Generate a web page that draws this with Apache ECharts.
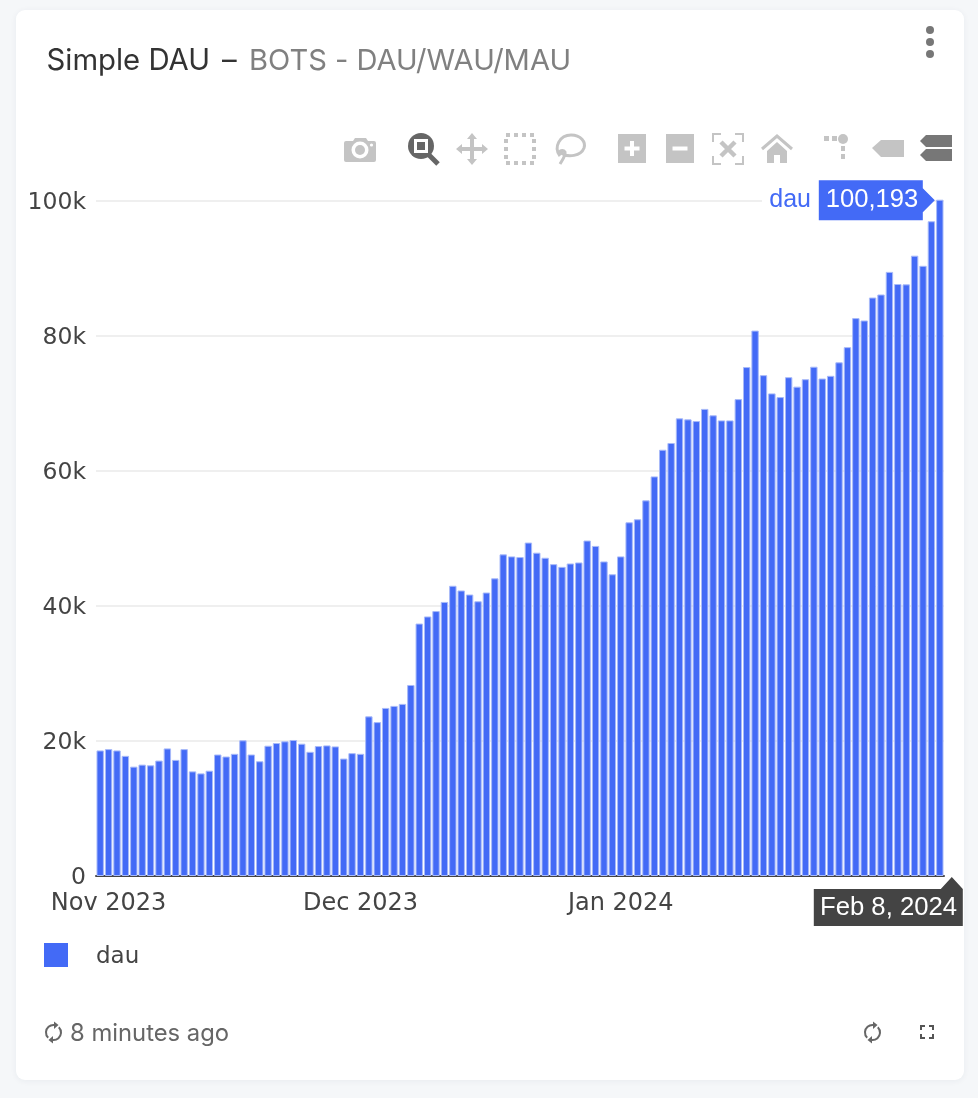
<!DOCTYPE html>
<html>
<head>
<meta charset="utf-8">
<script src="https://cdn.jsdelivr.net/npm/echarts@6/dist/echarts.min.js"></script>
<style>
html,body{margin:0;padding:0;background:#f5f7f9;width:978px;height:1098px;overflow:hidden}
#card{position:absolute;left:16px;top:10px;width:948px;height:1070px;background:#fff;border-radius:9px;box-shadow:0 1px 6px rgba(30,50,80,.06)}
#chart{position:absolute;left:0;top:0;width:978px;height:1098px}
</style>
</head>
<body>
<div id="card"></div>
<div id="chart"></div>
<script>
const days = [
"2023-10-31",
"2023-11-01","2023-11-02","2023-11-03","2023-11-04","2023-11-05","2023-11-06","2023-11-07","2023-11-08","2023-11-09","2023-11-10",
"2023-11-11","2023-11-12","2023-11-13","2023-11-14","2023-11-15","2023-11-16","2023-11-17","2023-11-18","2023-11-19","2023-11-20",
"2023-11-21","2023-11-22","2023-11-23","2023-11-24","2023-11-25","2023-11-26","2023-11-27","2023-11-28","2023-11-29","2023-11-30",
"2023-12-01","2023-12-02","2023-12-03","2023-12-04","2023-12-05","2023-12-06","2023-12-07","2023-12-08","2023-12-09","2023-12-10",
"2023-12-11","2023-12-12","2023-12-13","2023-12-14","2023-12-15","2023-12-16","2023-12-17","2023-12-18","2023-12-19","2023-12-20",
"2023-12-21","2023-12-22","2023-12-23","2023-12-24","2023-12-25","2023-12-26","2023-12-27","2023-12-28","2023-12-29","2023-12-30","2023-12-31",
"2024-01-01","2024-01-02","2024-01-03","2024-01-04","2024-01-05","2024-01-06","2024-01-07","2024-01-08","2024-01-09","2024-01-10",
"2024-01-11","2024-01-12","2024-01-13","2024-01-14","2024-01-15","2024-01-16","2024-01-17","2024-01-18","2024-01-19","2024-01-20",
"2024-01-21","2024-01-22","2024-01-23","2024-01-24","2024-01-25","2024-01-26","2024-01-27","2024-01-28","2024-01-29","2024-01-30","2024-01-31",
"2024-02-01","2024-02-02","2024-02-03","2024-02-04","2024-02-05","2024-02-06","2024-02-07","2024-02-08"
];
const dau = [
18600,18800,18600,17800,16200,16500,16400,17100,18900,17200,
18800,15500,15200,15600,18000,17700,18100,20100,18000,17000,
19300,19700,19950,20150,19600,18400,19250,19350,19200,17400,
18200,18100,23650,22800,24900,25200,25500,28300,37400,38450,
39250,40600,43000,42300,41700,40700,42000,44100,47650,47350,
47250,49400,47900,47150,46200,45800,46300,46450,49700,48900,
46600,44700,47350,52400,52850,55650,59200,63150,64150,67800,
67650,67400,69200,68250,67500,67500,70650,75400,80800,74200,
71500,70950,73900,72500,73600,75450,73700,74100,76100,78350,
82650,82300,85700,86150,89500,87700,87650,91900,90400,97000,
100193
];
const tickLabels = {"2023-11-01":"Nov 2023","2023-12-01":"Dec 2023","2024-01-01":"Jan 2024"};
const yTickStep = 20000;
const seriesName = "dau";
const hoverDate = "Feb 8, 2024";
const BLUE = "#436af6", GRAY = "#c4c4c4", DARK = "#777";
const TICK_FONT = '"DejaVu Sans"', UI_FONT = 'Inter';

let pathCount = 0;
function pathType(d) {
  const name = 'iconPath' + (pathCount++);
  echarts.graphic.registerShape(name, echarts.graphic.extendPath(d));
  return name;
}
function txt(text, x, y, size, fill, family, align) {
  return {type:'text', z:50, style:{text, x, y, fill, font:`${size}px ${family}`, textAlign:align||'left', verticalAlign:'middle'}};
}
function fillPath(d, x, y, fill) {
  return {type:pathType(d), z:50, x, y, style:{fill, stroke:null}};
}
function strokePath(d, x, y, stroke, lineWidth, dash) {
  return {type:pathType(d), z:50, x, y, style:{fill:null, stroke, lineWidth, lineDash:dash||null}};
}
function circle(cx, cy, r, fill) {
  return {type:'circle', z:50, shape:{cx, cy, r}, style:{fill}};
}
function rect(x, y, width, height, fill, r) {
  return {type:'rect', z:50, shape:{x, y, width, height, r:r||0}, style:{fill}};
}
function sync(x, y) {
  return [
    strokePath('M9 3 A7.5 7.5 0 0 0 3.2 15.8', x, y, '#666', 2),
    fillPath('M9 -0.5 L13.5 3 L9 7 Z', x, y, '#666'),
    strokePath('M8 18 A7.5 7.5 0 0 0 13.8 5.2', x, y, '#666', 2),
    fillPath('M8 14 L3.5 18 L8 21.5 Z', x, y, '#666')
  ];
}

const decorations = [
  txt('Simple DAU', 46.5, 61, 29.3, '#333', UI_FONT),
  txt('\u2013', 222, 61, 29.3, '#333', UI_FONT),
  txt('BOTS - DAU/WAU/MAU', 249, 61, 29.1, '#808080', UI_FONT),
  circle(930, 30, 4, DARK), circle(930, 42, 4, DARK), circle(930, 54, 4, DARK),
  // camera
  fillPath('M2 8 H9 L11 5 H22 L24 8 H30 Q32 8 32 10 V27 Q32 29 30 29 H2 Q0 29 0 27 V10 Q0 8 2 8 Z', 344, 133, GRAY),
  circle(360, 150, 8.5, '#fff'), circle(360, 150, 5, GRAY), circle(371.5, 145, 1.6, '#fff'),
  // zoom (active)
  strokePath('M21 22 L30 31', 408, 133, '#666', 5),
  circle(421, 146, 13, '#666'),
  rect(414, 139, 14, 14, '#fff'), rect(417, 142, 8, 8, '#666'),
  // pan
  fillPath('M16 0 L21 6 H18 V14 H26 V11 L32 16 L26 21 V18 H18 V26 H21 L16 32 L11 26 H14 V18 H6 V21 L0 16 L6 11 V14 H14 V6 H11 Z', 456, 133, GRAY),
  // box select
  strokePath('M2 2 H30 V30 H2 Z', 504, 133, GRAY, 4, [4,4]),
  // lasso
  strokePath('M6 23 C-1 14 6 2 17 2 C27 2 32 9 30 15 C27 23 14 25 7 20 C4 18 9 16 11 19 C12 22 9 26 6 31', 554, 133, GRAY, 3),
  // zoom in
  rect(618, 134, 28, 29, GRAY),
  rect(624.5, 146.5, 15, 4, '#fff'), rect(630, 141, 4, 15, '#fff'),
  // zoom out
  rect(666, 134, 28, 29, GRAY),
  rect(672.5, 146.5, 15, 4, '#fff'),
  // autoscale
  strokePath('M9 1 H1 V9 M23 1 H31 V9 M1 23 V31 H9 M31 23 V31 H23', 712, 133, GRAY, 2),
  strokePath('M9 9 L23 23 M23 9 L9 23', 712, 133, GRAY, 4.5),
  // home
  strokePath('M0 16 L15 3 L30 16', 762, 133, GRAY, 3),
  fillPath('M5 18 L15 9 L25 18 V30 H18 V22 H12 V30 H5 Z', 762, 133, GRAY),
  // spike lines
  rect(824, 136, 5, 5, GRAY), rect(832, 136, 5, 5, GRAY), circle(843, 139, 5, GRAY),
  rect(841, 146, 4, 5, GRAY), rect(841, 154, 4, 5, GRAY),
  // closest data
  fillPath('M0 9 L9 1 H32 V18 H9 Z', 872, 139, GRAY),
  // compare data
  fillPath('M0 6 L6 0 H32 V12 H6 Z', 920, 135, DARK),
  fillPath('M0 6 L6 0 H32 V12 H6 Z', 920, 149, DARK),
  // footer
  ...sync(45, 1022),
  txt('8 minutes ago', 70, 1034, 23.8, '#666', UI_FONT),
  ...sync(864, 1022),
  strokePath('M921 1030 V1026 H925 M929 1026 H933 V1030 M933 1034 V1038 H929 M925 1038 H921 V1034', 0, 0, '#555', 2)
];

const chart = echarts.init(document.getElementById('chart'), null, {renderer:'canvas'});
const option = {
  animation: false,
  backgroundColor: 'transparent',
  grid: {left: 96, right: 34, top: 187.5, height: 688.5, containLabel: false},
  legend: {
    show: true, left: 44, top: 943, padding: 0, orient: 'horizontal',
    itemWidth: 24, itemHeight: 24, icon: 'rect',
    data: [{name: seriesName, itemStyle: {borderWidth: 0, color: BLUE}}],
    formatter: n => `{a|${n}}`,
    textStyle: {padding: [0,0,0,23], rich: {a: {fontFamily: TICK_FONT, fontSize: 23, color: '#444', padding: [4,0,0,0]}}}
  },
  xAxis: {
    type: 'category', data: days, boundaryGap: true,
    axisLine: {show: true, lineStyle: {color: '#444', width: 2}},
    axisTick: {show: false},
    splitLine: {show: false},
    axisLabel: {
      interval: (i, v) => v in tickLabels,
      formatter: v => tickLabels[v] || '',
      hideOverlap: false, margin: 16,
      fontFamily: TICK_FONT, fontSize: 24, color: '#444'
    }
  },
  yAxis: {
    type: 'value', min: 0, max: 102000, interval: yTickStep,
    axisLine: {show: false}, axisTick: {show: false},
    splitLine: {show: true, showMaxLine: false, lineStyle: {color: '#efefef', width: 2}},
    axisLabel: {
      showMaxLabel: false, margin: 10, verticalAlign: 'top', lineHeight: 3,
      formatter: v => v === 0 ? '0' : (v / 1000) + 'k',
      fontFamily: TICK_FONT, fontSize: 23.5, color: '#444'
    }
  },
  series: [{
    name: seriesName, type: 'bar', data: dau, barWidth: 7.4,
    itemStyle: {color: BLUE, borderColor: '#a8baf9', borderWidth: 1}
  }],
  graphic: {elements: decorations}
};
chart.setOption(option);

// hover labels are anchored on the last bar via the chart's own scales
const lastIdx = dau.length - 1;
const [px, py] = chart.convertToPixel({xAxisIndex: 0, yAxisIndex: 0}, [lastIdx, dau[lastIdx]]);
const axisY = chart.convertToPixel({yAxisIndex: 0}, 0);
const tipX = px - 5, midY = py + 0.5;
const hover = [
  rect(762, midY - 20, 57, 40, '#fff'),
  fillPath(`M${tipX - 12} ${midY - 12} L${tipX} ${midY} L${tipX - 12} ${midY + 12} V${midY + 20} H${tipX - 116} V${midY - 20} H${tipX - 12} Z`, 0, 0, BLUE),
  txt(seriesName, 811, midY, 25, BLUE, '"Liberation Sans"', 'right'),
  txt(dau[lastIdx].toLocaleString('en-US'), 872, midY, 25.6, '#fff', '"Liberation Sans"', 'center'),
  fillPath(`M${px + 12} ${axisY + 1} L${px + 23} ${axisY + 13} V${axisY + 50} H${px - 126} V${axisY + 13} H${px + 1} Z`, 0, 0, '#444'),
  txt(hoverDate, 888.5, axisY + 32, 25.7, '#fff', '"Liberation Sans"', 'center')
];
chart.setOption({graphic: {elements: decorations.concat(hover)}});
</script>
</body>
</html>
